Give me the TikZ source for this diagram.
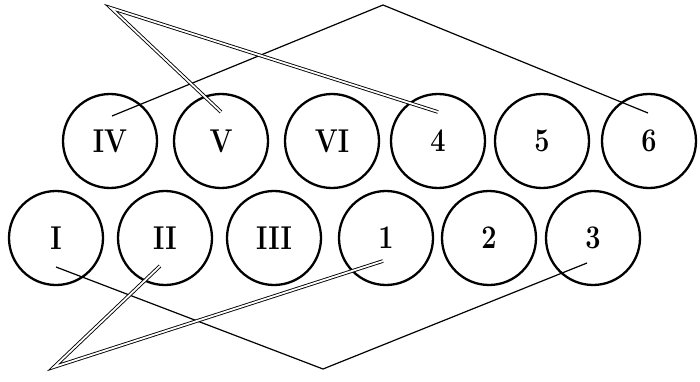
\documentclass[tikz,border=0pt]{standalone}
\newcommand{\slotlbl}[1]{\scalebox{0.82}[1]{#1}}
\begin{document}
\begin{tikzpicture}[x=1pt,y=-1pt,
  slot/.style={circle,draw,line width=2.3pt,minimum size=94pt,inner sep=0pt,
    font=\fontsize{33}{36}\selectfont\bfseries},
  single/.style={line width=1.2pt},
  twin/.style={double,double distance=1.8pt,line width=0.9pt,line join=miter}]
\useasboundingbox (0,0) rectangle (700,382);
% top row
\node[slot] (cIV) at (110,141) {\slotlbl{IV}};
\node[slot] (cV)  at (221,141) {\slotlbl{V}};
\node[slot] (cVI) at (332,141) {\slotlbl{VI}};
\node[slot] (c4)  at (438,141) {\slotlbl{4}};
\node[slot] (c5)  at (542,141) {\slotlbl{5}};
\node[slot] (c6)  at (649,141) {\slotlbl{6}};
% bottom row
\node[slot] (cI)   at (56,238)  {\slotlbl{I}};
\node[slot] (cII)  at (165,238) {\slotlbl{II}};
\node[slot] (cIII) at (274,238) {\slotlbl{III}};
\node[slot] (c1)   at (386,238) {\slotlbl{1}};
\node[slot] (c2)   at (489,238) {\slotlbl{2}};
\node[slot] (c3)   at (593,238) {\slotlbl{3}};
% connector points
\coordinate (pIV) at (112,116);
\coordinate (apT) at (383,5);
\coordinate (p6)  at (648,113);
\coordinate (apTT) at (111,8);
\coordinate (pV)  at (221,112);
\coordinate (p4)  at (438,112);
\coordinate (pI)  at (56,267);
\coordinate (apB) at (323,369);
\coordinate (p3)  at (587,263);
\coordinate (apBB) at (54,367);
\coordinate (pII) at (160,266);
\coordinate (p1)  at (383,261);
% connectors
\draw[single] (pIV) -- (apT) -- (p6);
\draw[twin] (pV) -- (apTT) -- (p4);
\draw[single] (pI) -- (apB) -- (p3);
\draw[twin] (pII) -- (apBB) -- (p1);
\end{tikzpicture}
\end{document}
